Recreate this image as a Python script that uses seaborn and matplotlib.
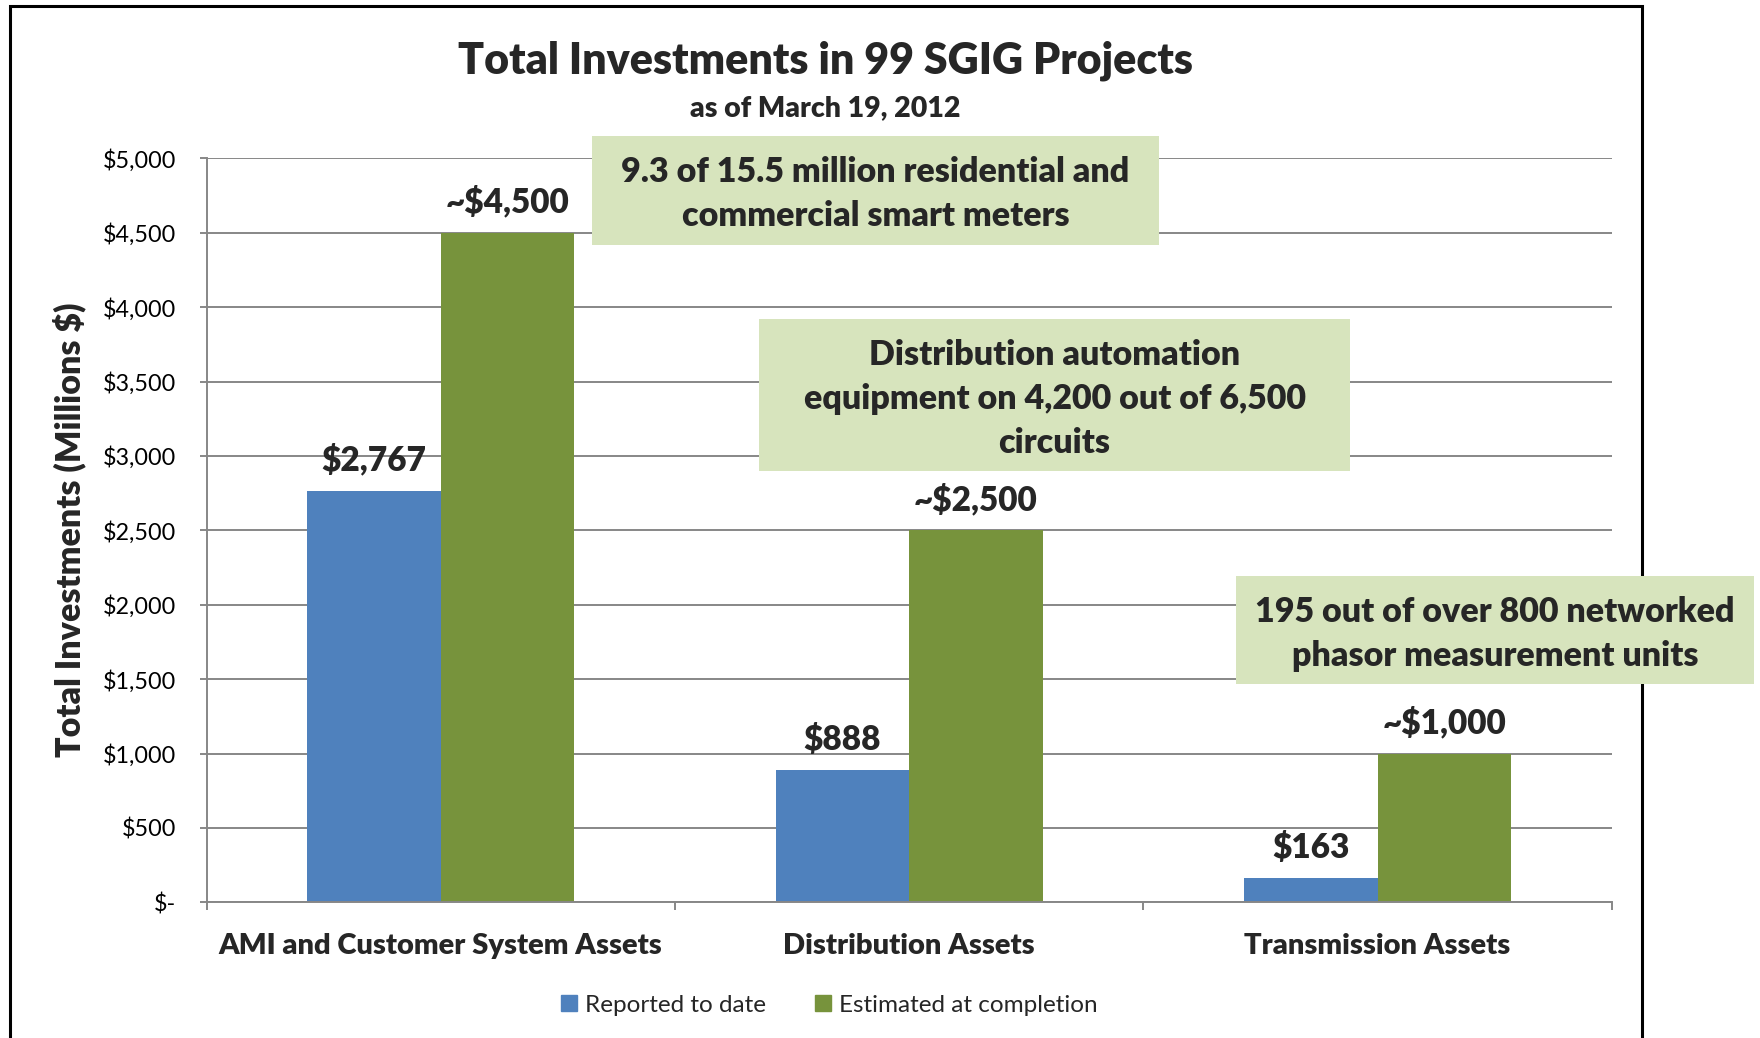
import matplotlib

matplotlib.use("Agg")

import matplotlib.pyplot as plt
import matplotlib.ticker as mticker
import pandas as pd
import seaborn as sns
from matplotlib.patches import Rectangle

CATEGORIES = ["AMI and Customer System Assets", "Distribution Assets", "Transmission Assets"]
SERIES = ["Reported to date", "Estimated at completion"]
REPORTED = [2767, 888, 163]
ESTIMATED = [4500, 2500, 1000]
ESTIMATE_PREFIX = "~"

NOTES = [
    "9.3 of 15.5 million residential and\ncommercial smart meters",
    "Distribution automation\nequipment on 4,200 out of 6,500\ncircuits",
    "195 out of over 800 networked\nphasor measurement units",
]

BLUE = "#4F81BD"
GREEN = "#77933C"
BOX = "#D7E4BD"
GRID = "#878787"
HEAVY = "heavy"

W, H = 1760, 1038

sns.set_theme(style="white")
plt.rcParams["font.family"] = ["Lato", "DejaVu Sans"]

df = pd.DataFrame(
    {
        "category": CATEGORIES * 2,
        "series": [SERIES[0]] * len(CATEGORIES) + [SERIES[1]] * len(CATEGORIES),
        "value": REPORTED + ESTIMATED,
    }
)

fig = plt.figure(figsize=(W / 100, H / 100), dpi=100)
fig.patch.set_facecolor("white")


def fx(px):
    return px / W


def fy(py):
    return 1 - py / H


ax = fig.add_axes([fx(206.5), fy(902.4), fx(1611.8) - fx(206.5), fy(158.3) - fy(902.4)])

sns.barplot(
    data=df,
    x="category",
    y="value",
    hue="series",
    hue_order=SERIES,
    order=CATEGORIES,
    palette=[BLUE, GREEN],
    width=0.57,
    saturation=1,
    linewidth=0,
    errorbar=None,
    ax=ax,
)

ax.set_ylim(0, 5000)
ax.set_xlim(-0.5, len(CATEGORIES) - 0.5)
ax.yaxis.set_major_locator(mticker.MultipleLocator(500))
ax.yaxis.set_major_formatter(mticker.FuncFormatter(lambda v, _: "$-" if v == 0 else f"${v:,.0f}"))
ax.grid(axis="y", color=GRID, linewidth=1.4)
ax.set_axisbelow(True)
ax.set_xlabel("")
ax.set_ylabel("")

for side in ["top", "right"]:
    ax.spines[side].set_visible(False)
for side in ["left", "bottom"]:
    ax.spines[side].set_color(GRID)
    ax.spines[side].set_linewidth(1.4)

ax.tick_params(axis="y", which="major", left=True, length=5, width=1.4, color=GRID,
               labelsize=16.8, pad=17, labelcolor="black")
ax.tick_params(axis="x", which="major", bottom=False, length=0, pad=22, labelsize=21)
for lbl in ax.get_xticklabels():
    lbl.set_fontweight(HEAVY)
ax.set_xticks([i + 0.5 for i in range(-1, len(CATEGORIES))], minor=True)
ax.tick_params(axis="x", which="minor", bottom=True, length=6, width=1.4, color=GRID)

# value labels on top of bars
for container, vals, prefix in zip(ax.containers, [REPORTED, ESTIMATED], ["", ESTIMATE_PREFIX]):
    for bar, v in zip(container, vals):
        ax.annotate(
            f"{prefix}${v:,.0f}",
            (bar.get_x() + bar.get_width() / 2, bar.get_height()),
            xytext=(0, 10),
            textcoords="offset points",
            ha="center",
            va="bottom",
            fontsize=24,
            fontweight=HEAVY,
        )

# legend
ax.get_legend().remove()
handles = [Rectangle((0, 0), 1, 1, color=c) for c in [BLUE, GREEN]]
fig.legend(
    handles,
    SERIES,
    loc="center",
    bbox_to_anchor=(fx(829.5), fy(1005)),
    ncol=2,
    frameon=False,
    fontsize=17.5,
    handlelength=0.65,
    handleheight=0.65,
    handletextpad=0.35,
    columnspacing=2.0,
)

fig.text(fx(825), fy(61), "Total Investments in 99 SGIG Projects", ha="center", va="center",
         fontsize=31, fontweight=HEAVY)
fig.text(fx(825), fy(108), "as of March 19, 2012", ha="center", va="center",
         fontsize=20.5, fontweight=HEAVY)
fig.text(fx(69.6), fy(530), "Total Investments (Millions $)", ha="center", va="center",
         rotation=90, fontsize=24.5, fontweight=HEAVY)

# note boxes
boxes = [
    (591.5, 135.8, 1159.4, 244.7),
    (758.7, 318.8, 1350.3, 471.4),
    (1235.8, 575.8, 1754.3, 683.5),
]
for (x0, y0, x1, y1), note in zip(boxes, NOTES):
    fig.patches.append(
        Rectangle((fx(x0), fy(y1)), fx(x1) - fx(x0), fy(y0) - fy(y1),
                  transform=fig.transFigure, facecolor=BOX, edgecolor="none", zorder=5)
    )
    fig.text(fx((x0 + x1) / 2), fy((y0 + y1) / 2 + 4), note, ha="center", va="center",
             fontsize=24.5, fontweight=HEAVY, linespacing=1.45, zorder=6)

# outer frame of the chart
fig.patches.append(
    Rectangle((fx(10), fy(1060)), fx(1642) - fx(10), fy(6) - fy(1060),
              transform=fig.transFigure, facecolor="none", edgecolor="black",
              linewidth=2.2, zorder=4)
)

fig.savefig("out.png", dpi=100)
